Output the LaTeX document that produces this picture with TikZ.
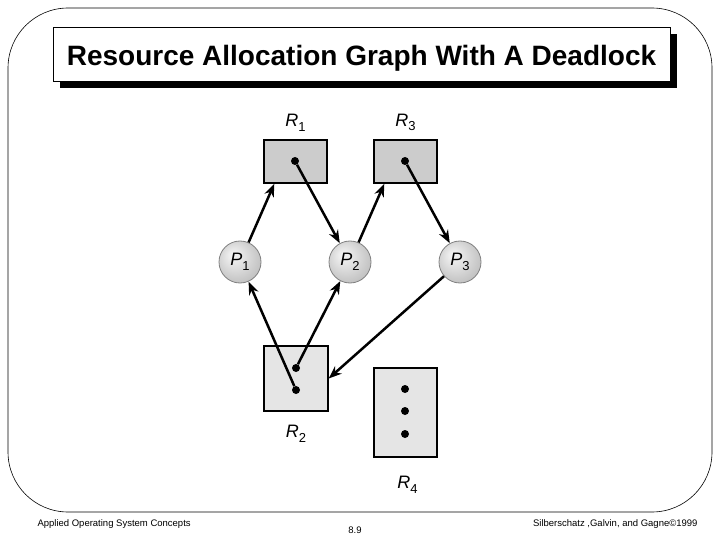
\documentclass[tikz,border=0pt]{standalone}
\usepackage{fontspec}
\setmainfont{Liberation Sans}
\usetikzlibrary{arrows.meta,positioning,shadows}

\newcommand{\rname}[2]{\textit{#1}\raisebox{-0.5ex}{\fontsize{13}{13}\selectfont #2}}
\pgfdeclareradialshading{procball}{\pgfpoint{-9bp}{9bp}}{color(0bp)=(gray!8); color(6bp)=(gray!15); color(22bp)=(gray!38); color(38bp)=(gray!60); color(50bp)=(gray!60)}

\begin{document}
\begin{tikzpicture}[
  x=1pt, y=-1pt,
  resource/.style={rectangle, draw, line width=1.4pt, minimum width=63pt, minimum height=43pt},
  process/.style={circle, draw=black!50, line width=0.8pt, shading=procball, minimum size=42pt, inner sep=0pt, font=\fontsize{18}{18}\selectfont},
  inst/.style={circle, fill=black, inner sep=0pt, minimum size=8pt},
  rlabel/.style={font=\fontsize{18}{18}\selectfont, inner sep=1pt},
  alloc/.style={draw, ->, >={Stealth[length=13pt, width=10pt]}, line width=2.5pt}
]
\useasboundingbox (0,0) rectangle (720,540);
\draw[line width=0.6pt, rounded corners=60pt] (8,8) rectangle (712,512);

% title
\node[draw, line width=0.8pt, fill=white, minimum width=617pt, minimum height=54pt,
  text height=26pt, text depth=2pt,
  drop shadow={shadow xshift=7pt, shadow yshift=-7pt, fill=black, opacity=1},
  font=\bfseries\fontsize{28}{28}\selectfont] (title) at (361.5,54) {Resource Allocation Graph With A Deadlock};

% resources
\node[resource, fill=gray!40] (r1) at (295.5,161.5) {};
\node[resource, fill=gray!40] (r3) at (405.5,161.5) {};
\node[resource, fill=gray!20, minimum width=64pt, minimum height=65pt] (r2) at (296,378.5) {};
\node[resource, fill=gray!20, minimum width=63pt, minimum height=89pt] (r4) at (405.5,412.5) {};

\node[inst] (r1dot) at (295,161) {};
\node[inst] (r3dot) at (405,161) {};
\node[inst] (r2dota) at (296,368) {};
\node[inst] (r2dotb) at (296,390) {};
\node[inst] (r4dota) at (405,389) {};
\node[inst] (r4dotb) at (405,411) {};
\node[inst] (r4dotc) at (405,434) {};

\node[rlabel, above=7pt of r1] (r1lbl) {\rname{R}{1}};
\node[rlabel, above=7pt of r3] (r3lbl) {\rname{R}{3}};
\node[rlabel, below=12pt of r2] (r2lbl) {\rname{R}{2}};
\node[rlabel, below=17pt of r4, xshift=2pt] (r4lbl) {\rname{R}{4}};

% processes
\node[process] (p1) at (240,262) {\rname{P}{1}};
\node[process] (p2) at (350,262) {\rname{P}{2}};
\node[process] (p3) at (460,262) {\rname{P}{3}};

% edges
\draw[alloc] (p1) -- ([xshift=11pt]r1.south west);
\draw[alloc] (r1dot) -- (p2);
\draw[alloc] (p2) -- ([xshift=11pt]r3.south west);
\draw[alloc] (r3dot) -- (p3);
\draw[alloc] (p3) -- (r2.east);
\draw[alloc] (r2dotb) -- (p1);
\draw[alloc] (r2dota) -- (p2);

% footer
\node[anchor=west, font=\fontsize{9.5}{10}\selectfont] (foot1) at (34,524) {Applied Operating System Concepts};
\node[font=\fontsize{9.5}{10}\selectfont] (foot2) at (355,530) {8.9};
\node[anchor=east, font=\fontsize{9.5}{10}\selectfont] (foot3) at (701,524) {Silberschatz ,Galvin, and Gagne\textcopyright1999};
\end{tikzpicture}
\end{document}
